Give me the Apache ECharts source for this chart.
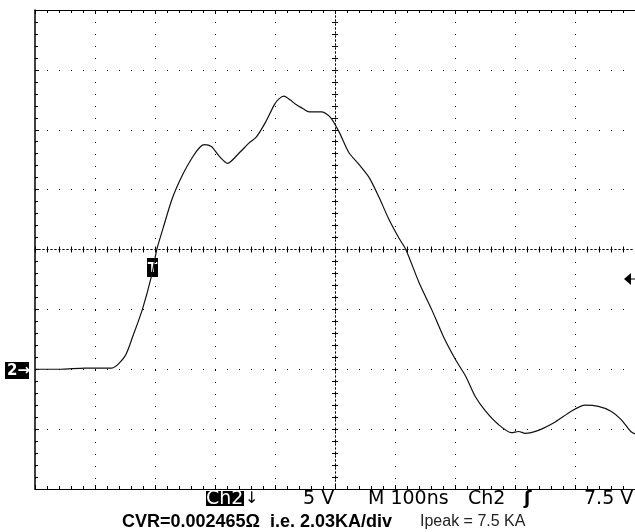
<!DOCTYPE html>
<html>
<head>
<meta charset="utf-8">
<script src="https://cdn.jsdelivr.net/npm/echarts@6/dist/echarts.min.js"></script>
<style>
html, body { margin: 0; padding: 0; background: #fff; }
#chart { width: 635px; height: 532px; }
</style>
</head>
<body>
<div id="chart"></div>
<script>
// Ch2 trace: time across the screen (ns, 100ns/div) and voltage (5 V/div)
const timeNs = [0, 42, 83, 128, 150, 163, 179, 194, 203, 213, 229, 246, 263, 274, 282, 294, 307, 321,
    341, 357, 369, 385, 399, 407, 415, 425, 435, 447, 457, 478, 493, 507, 523, 540, 557, 573, 590,
    606, 618, 640, 661, 681, 701, 718, 734, 751, 772, 794, 806, 817, 839, 867, 894, 917, 939, 960,
    977, 993, 1000];
const volts = [0, 0, 0.1, 0.1, 1.1, 2.75, 5.0, 7.75, 10.0, 11.7, 14.3, 16.25, 17.75, 18.5, 18.75, 18.6, 17.8, 17.2,
    18.1, 18.9, 19.4, 20.7, 22.1, 22.6, 22.8, 22.5, 22.1, 21.75, 21.5, 21.5, 21.0, 19.8, 18.1, 17.1, 16.0, 14.4, 12.5,
    11.0, 10.0, 7.25, 5.0, 2.7, 0.8, -0.6, -2.3, -3.5, -4.6, -5.3, -5.2, -5.35, -5.1, -4.4, -3.5, -3.0, -3.1, -3.5,
    -4.2, -5.2, -5.4];

// screen divisions
const timeTicks = [0, 1000, 100];
const voltTicks = [-10, 30, 5];

const chart = echarts.init(document.getElementById('chart'));

const black = '#000';
const dotted = { color: black, width: 1, type: [1, 11] };

function borderAxis(pos, inside) {
    return {
        type: 'value', position: pos, min: timeTicks[0], max: timeTicks[1], interval: timeTicks[2],
        axisLine: { show: true, onZero: false, lineStyle: { color: black, width: 1 } },
        axisTick: { show: true, inside: inside, length: 4, lineStyle: { color: black } },
        minorTick: { show: true, splitNumber: 5, length: 3, lineStyle: { color: black } },
        axisLabel: { show: false },
        splitLine: { show: false }
    };
}

function centerX(inside) {
    return {
        type: 'value', position: 'bottom', min: -500, max: 500, interval: 100,
        axisLine: { show: true, onZero: true, onZeroAxisIndex: 1, lineStyle: { color: black, width: 1, type: [1, 3] } },
        axisTick: { show: true, inside: inside, length: 3, lineStyle: { color: black } },
        minorTick: { show: true, splitNumber: 5, length: 3, lineStyle: { color: black } },
        axisLabel: { show: false },
        splitLine: { show: false }
    };
}

function centerY(inside) {
    return {
        type: 'value', position: 'left', min: -20, max: 20, interval: 5,
        axisLine: { show: true, onZero: true, onZeroAxisIndex: 2, lineStyle: { color: black, width: 1, type: [1, 3] } },
        axisTick: { show: true, inside: inside, length: 3, lineStyle: { color: black } },
        minorTick: { show: true, splitNumber: 5, length: 3, lineStyle: { color: black } },
        axisLabel: { show: false },
        splitLine: { show: false }
    };
}

const mainX = borderAxis('bottom', true);
mainX.splitLine = { show: true, lineStyle: dotted };

const statusFont = '19px "DejaVu Sans"';

const options = {
    backgroundColor: '#FFFFFF',
    animation: false,
    grid: [{ left: 35, top: 10, width: 602, height: 479, containLabel: false }],
    xAxis: [mainX, borderAxis('top', true), centerX(true), centerX(false)],
    yAxis: [
        {
            type: 'value', position: 'left', min: voltTicks[0], max: voltTicks[1], interval: voltTicks[2],
            axisLine: { show: true, onZero: false, lineStyle: { color: black, width: 1.5 } },
            axisTick: { show: true, inside: true, length: 4, lineStyle: { color: black } },
            minorTick: { show: true, splitNumber: 5, length: 3, lineStyle: { color: black } },
            axisLabel: { show: false },
            splitLine: { show: true, lineStyle: dotted }
        },
        centerY(true),
        centerY(false)
    ],
    series: [{
        type: 'line',
        xAxisIndex: 0,
        yAxisIndex: 0,
        data: timeNs.map((t, i) => [t, volts[i]]),
        showSymbol: false,
        smooth: 0.25,
        lineStyle: { color: '#111', width: 1.2 },
        silent: true
    }],
    graphic: [
        // channel 2 ground marker
        { type: 'rect', shape: { x: 5, y: 362, width: 24, height: 17 }, style: { fill: black } },
        { type: 'text', x: 7, y: 371, style: { text: '2→', fill: '#fff', font: 'bold 15px "DejaVu Sans"', verticalAlign: 'middle' } },
        // trigger position marker
        { type: 'rect', shape: { x: 147, y: 258, width: 11, height: 19 }, style: { fill: black } },
        { type: 'text', x: 152.5, y: 268, style: { text: 'T', fill: '#fff', font: 'bold 14px "DejaVu Sans"', align: 'center', verticalAlign: 'middle' } },
        // trigger level arrow
        { type: 'polygon', shape: { points: [[624, 279], [631, 273], [631, 285]] }, style: { fill: black } },
        { type: 'line', shape: { x1: 630, y1: 279, x2: 635, y2: 279 }, style: { stroke: black, lineWidth: 1 } },
        // status line
        { type: 'rect', shape: { x: 206, y: 491, width: 38, height: 15 }, style: { fill: black } },
        { type: 'text', x: 206, y: 499, style: { text: 'Ch2', fill: '#fff', font: statusFont, verticalAlign: 'middle' } },
        { type: 'text', x: 245, y: 499, style: { text: '↓', fill: black, font: '16px "DejaVu Sans"', verticalAlign: 'middle' } },
        { type: 'text', x: 303, y: 499, style: { text: '5 V', fill: black, font: statusFont, verticalAlign: 'middle' } },
        { type: 'text', x: 368, y: 499, style: { text: 'M 100ns', fill: black, font: statusFont, verticalAlign: 'middle' } },
        { type: 'text', x: 468, y: 499, style: { text: 'Ch2', fill: black, font: statusFont, verticalAlign: 'middle' } },
        { type: 'text', x: 524, y: 499, style: { text: 'ʃ', fill: black, font: 'bold 18px "DejaVu Sans"', verticalAlign: 'middle' } },
        { type: 'text', x: 584, y: 499, style: { text: '7.5 V', fill: black, font: statusFont, verticalAlign: 'middle' } },
        // caption
        { type: 'text', x: 122, y: 522, style: { text: 'CVR=0.002465Ω  i.e. 2.03KA/div', fill: black, font: 'bold 18px "Liberation Sans"', verticalAlign: 'middle' } },
        { type: 'text', x: 420, y: 522, style: { text: 'Ipeak = 7.5 KA', fill: '#222', font: '16px "Liberation Sans"', verticalAlign: 'middle' } }
    ]
};

chart.setOption(options);
</script>
</body>
</html>
